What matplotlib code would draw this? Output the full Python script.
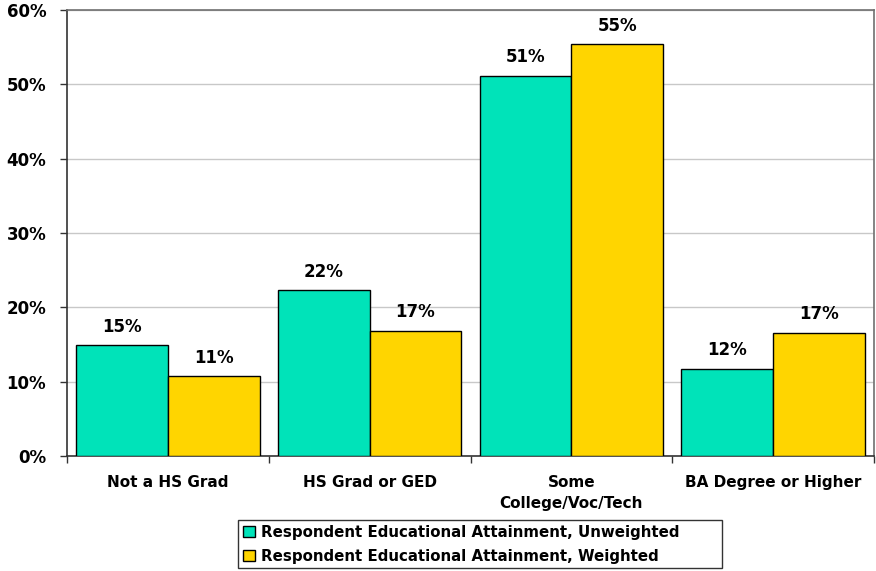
import numpy as np
import matplotlib
matplotlib.use('Agg')
import matplotlib.pyplot as plt
import matplotlib.ticker as mtick

# ── Data ──────────────────────────────────────────────────────────────────────
categories = ['Not a HS Grad', 'HS Grad or GED', 'Some\nCollege/Voc/Tech', 'BA Degree or Higher']
unweighted = [14.9, 22.3, 51.1, 11.7]
weighted   = [10.7, 16.8, 55.4, 16.6]
series_names = ['Respondent Educational Attainment, Unweighted',
                'Respondent Educational Attainment, Weighted']

TEAL = '#00E3B9'
GOLD = '#FFD500'

plt.rcParams['font.family'] = 'DejaVu Sans'
plt.rcParams['font.weight'] = 'bold'

fig = plt.figure(figsize=(8.76, 5.71), dpi=100)
ax = fig.add_axes([67/876, 115/571, 807/876, 446/571])

x = np.arange(len(categories)) + 0.5
w = 0.455
b1 = ax.bar(x - w/2, unweighted, w, color=TEAL, edgecolor='black', linewidth=1.0,
            label=series_names[0], zorder=3)
b2 = ax.bar(x + w/2, weighted, w, color=GOLD, edgecolor='black', linewidth=1.0,
            label=series_names[1], zorder=3)

for bars in (b1, b2):
    for r in bars:
        h = r.get_height()
        ax.text(r.get_x() + r.get_width()/2, h + 1.3, f'{h:.0f}%', ha='center', va='bottom',
                fontsize=12, fontweight='bold')

ax.set_xlim(0, 4)
ax.set_ylim(0, 60)
ax.yaxis.set_major_locator(mtick.MultipleLocator(10))
ax.yaxis.set_major_formatter(mtick.FuncFormatter(lambda v, p: f'{v:.0f}%'))
ax.grid(True, axis='y', color='#C8C8C8', linewidth=1.0, zorder=0)

# category boundaries as tick marks, labels centered
ax.set_xticks([0, 1, 2, 3, 4])
ax.set_xticklabels([])
ax.set_xticks(x, minor=True)
ax.set_xticklabels(categories, minor=True, fontsize=11, fontweight='bold', linespacing=1.45)
ax.tick_params(axis='x', which='minor', length=0, pad=14)
ax.tick_params(axis='x', which='major', length=5, width=1, color='#333333')
ax.tick_params(axis='y', length=5, width=1, color='#333333', labelsize=12, pad=10)

for s in ('top', 'right'):
    ax.spines[s].set_color('#707070')
    ax.spines[s].set_linewidth(1.2)
for s in ('left', 'bottom'):
    ax.spines[s].set_color('#333333')
    ax.spines[s].set_linewidth(1.2)

leg = fig.legend(loc='center', bbox_to_anchor=(238/876, 2/571, 484/876, 50/571),
                 mode='expand', ncol=1,
                 frameon=True, fancybox=False, edgecolor='black', fontsize=10.8,
                 handlelength=0.8, handleheight=0.8, handletextpad=0.45,
                 borderpad=0.3, labelspacing=0.6, borderaxespad=0)
leg.get_frame().set_linewidth(1.0)
for t in leg.get_texts():
    t.set_fontweight('bold')

fig.savefig('out.png', dpi=100)
